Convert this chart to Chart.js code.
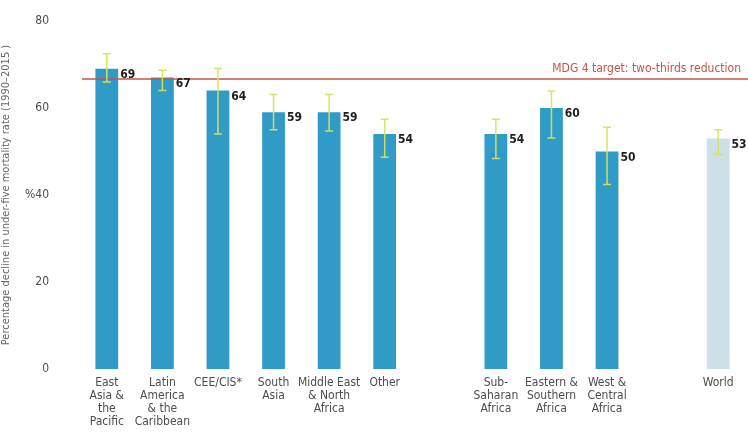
<!DOCTYPE html>
<html>
<head>
<meta charset="utf-8">
<script src="https://cdn.jsdelivr.net/npm/chart.js@4"></script>
<style>
  html, body { margin: 0; padding: 0; background: #ffffff; }
  #wrap { width: 748px; height: 434px; }
</style>
</head>
<body>
<div id="wrap"><canvas id="chart"></canvas></div>
<script>
// regions, with empty slots used as spacers between the groups
const regions = [
  ["East", "Asia &", "the", "Pacific"],
  ["Latin", "America", "& the", "Caribbean"],
  ["CEE/CIS*"],
  ["South", "Asia"],
  ["Middle East", "& North", "Africa"],
  ["Other"],
  "",
  ["Sub-", "Saharan", "Africa"],
  ["Eastern &", "Southern", "Africa"],
  ["West &", "Central", "Africa"],
  "",
  ["World"],
];

// percentage decline 1990-2015
const decline = [69, 67, 64, 59, 59, 54, null, 54, 60, 50, null, 53];
const declineLow = [66, 64, 54, 55, 54.7, 48.7, null, 48.4, 53.1, 42.4, null, 49.3];
const declineHigh = [72.5, 68.7, 69.1, 63.1, 63.1, 57.4, null, 57.4, 63.9, 55.6, null, 55];

const yTicks = [0, 20, 40, 60, 80];
const yTickLabels = ["0", "20", "%40", "60", "80"];
const mdgTarget = 200 / 3;

const FONT = "'Liberation Sans Narrow', 'DejaVu Sans Condensed', 'Roboto', sans-serif";

const barColors = decline.map((v, i) => i === 11 ? "#cde0e8" : "#2f9bc6");

// error whiskers, value labels and the target line
const overlay = {
  id: "overlay",
  afterDatasetsDraw(chart) {
    const { ctx, chartArea, scales: { x, y } } = chart;
    const meta = chart.getDatasetMeta(0);

    // MDG target line
    const ty = y.getPixelForValue(mdgTarget);
    ctx.save();
    ctx.strokeStyle = "#c8524a";
    ctx.lineWidth = 1.5;
    ctx.beginPath();
    ctx.moveTo(chartArea.left + 3, ty);
    ctx.lineTo(chart.width, ty);
    ctx.stroke();
    ctx.fillStyle = "#c8524a";
    ctx.font = "12px " + FONT;
    ctx.textAlign = "right";
    ctx.textBaseline = "bottom";
    ctx.fillText("MDG 4 target: two-thirds reduction", 741, ty - 4);
    ctx.restore();

    meta.data.forEach((bar, i) => {
      if (decline[i] == null) return;
      const cx = bar.x;
      const top = y.getPixelForValue(declineHigh[i]);
      const bot = y.getPixelForValue(declineLow[i]);
      ctx.save();
      ctx.strokeStyle = "rgba(214,226,90,0.95)";
      ctx.lineWidth = 1.5;
      ctx.beginPath();
      ctx.moveTo(cx, top); ctx.lineTo(cx, bot);
      ctx.moveTo(cx - 4, top); ctx.lineTo(cx + 4, top);
      ctx.moveTo(cx - 4, bot); ctx.lineTo(cx + 4, bot);
      ctx.stroke();

      ctx.fillStyle = "#1e1e1e";
      ctx.font = "bold 12px " + FONT;
      ctx.textAlign = "left";
      ctx.textBaseline = "middle";
      ctx.fillText(String(decline[i]), bar.x + bar.width / 2 + 2, bar.y + 6);
      ctx.restore();
    });
  },
};

new Chart(document.getElementById("chart"), {
  type: "bar",
  data: {
    labels: regions,
    datasets: [{
      data: decline,
      backgroundColor: barColors,
      categoryPercentage: 1,
      barPercentage: 0.41,
    }],
  },
  options: {
    responsive: true,
    maintainAspectRatio: false,
    animation: false,
    layout: { padding: { top: 21, right: 2, left: 0, bottom: 0 } },
    plugins: {
      legend: { display: false },
      tooltip: { enabled: false },
    },
    scales: {
      x: {
        grid: { display: false, drawTicks: false },
        border: { display: false },
        ticks: {
          autoSkip: false,
          maxRotation: 0,
          padding: 7,
          color: "#4d4d4d",
          font: { family: FONT, size: 12, lineHeight: 1.1 },
        },
        afterFit(scale) { scale.height = 65; },
      },
      y: {
        min: 0,
        max: 80,
        afterBuildTicks(scale) { scale.ticks = yTicks.map(v => ({ value: v })); },
        grid: { display: false, drawTicks: false },
        border: { display: false },
        ticks: {
          padding: 30,
          color: "#4d4d4d",
          font: { family: FONT, size: 12 },
          callback: (v) => yTickLabels[yTicks.indexOf(v)],
        },
        title: {
          display: true,
          text: "Percentage decline in under-five mortality rate (1990–2015 )",
          color: "#666666",
          font: { family: FONT, size: 11 },
          padding: { top: 0, bottom: 0 },
        },
        afterFit(scale) {
          scale.width = 79;
          scale.paddingTop = 0;
          scale.paddingBottom = 0;
        },
      },
    },
  },
  plugins: [overlay],
});
</script>
</body>
</html>
